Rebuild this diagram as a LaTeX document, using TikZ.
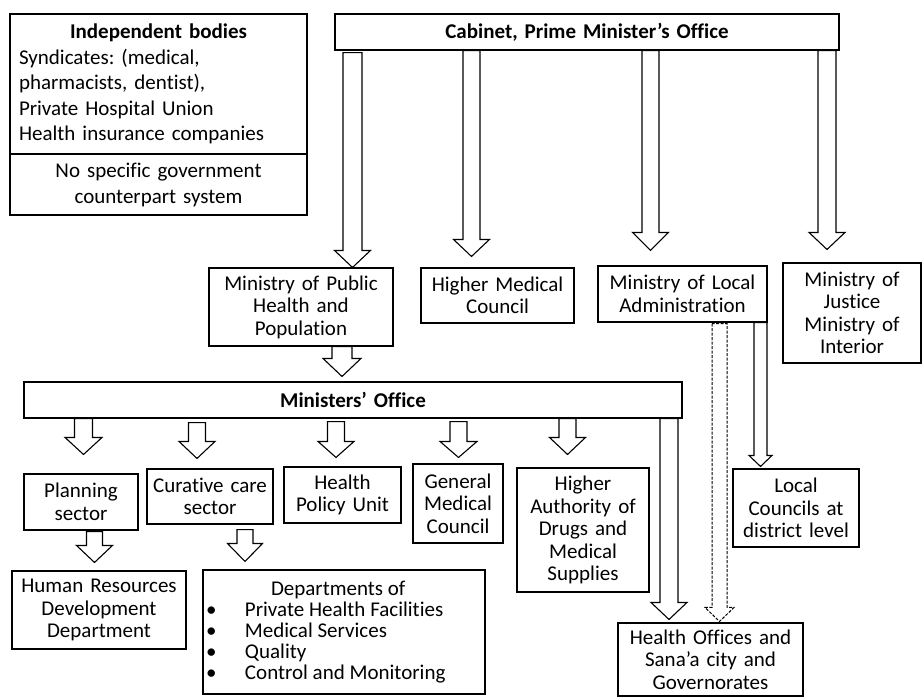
\documentclass[tikz,border=0pt]{standalone}
\usepackage{fontspec}
\setmainfont[Ligatures=NoCommon]{Carlito}
\usetikzlibrary{calc}
\frenchspacing
\tikzset{
  box/.style={draw, line width=1.1pt, fill=white, inner sep=0pt, align=center,
    font=\fontsize{21}{22.5}\selectfont},
  blk/.style={draw, line width=1.1pt, fill=white, line join=miter},
  dsh/.style={draw, line width=1pt, fill=white, dash pattern=on 3pt off 1.5pt},
}
% #1 style, #2 x centre, #3 from anchor, #4 top gap, #5 to anchor, #6 tip gap,
% #7 shaft half width, #8 head half width, #9 head length
\newcommand\barrow[9]{%
  \path[#1] let \p1=(#3), \p2=(#5) in
    ({(#2-#7)*1pt},{\y1-(#4)*1pt}) --
    ({(#2-#7)*1pt},{\y2+(#6+#9)*1pt}) --
    ({(#2-#8)*1pt},{\y2+(#6+#9)*1pt}) --
    ({(#2)*1pt},{\y2+(#6)*1pt}) --
    ({(#2+#8)*1pt},{\y2+(#6+#9)*1pt}) --
    ({(#2+#7)*1pt},{\y2+(#6+#9)*1pt}) --
    ({(#2+#7)*1pt},{\y1-(#4)*1pt}) -- cycle;}
\newcommand\bul{\makebox[42pt][l]{\hspace*{3pt}\textbullet}}
\begin{document}
\begin{tikzpicture}[x=1pt,y=-1pt]
\useasboundingbox (0,0) rectangle (923,697);

% boxes
\node[box, minimum width=297pt, minimum height=140pt, text width=279pt, align=left,
  font=\fontsize{21}{25.5}\selectfont] (indep) at (158.5,84)
  {\hfill\textbf{Independent bodies}\hfill\null\\
   Syndicates: (medical,\\
   pharmacists, dentist),\\
   Private Hospital Union\\
   Health insurance companies};
\node[box, minimum width=297pt, minimum height=61pt, text width=290pt,
  font=\fontsize{21}{26}\selectfont] (nogov) at (158.5,184.5)
  {No specific government\\counterpart system};
\node[box, minimum width=504pt, minimum height=36pt, text width=500pt,
  font=\fontsize{21}{22.5}\selectfont\bfseries] (cab) at (587,32)
  {Cabinet, Prime Minister’s Office};
\node[box, minimum width=184pt, minimum height=78pt, text width=180pt] (moph) at (301,307)
  {Ministry of Public\\Health and\\Population};
\node[box, minimum width=153pt, minimum height=55pt, text width=150pt] (hmc) at (497.5,295.5)
  {Higher Medical\\Council};
\node[box, minimum width=169pt, minimum height=56pt, text width=166pt] (mla) at (682.5,294)
  {Ministry of Local\\Administration};
\node[box, minimum width=138pt, minimum height=100pt, text width=134pt] (mji) at (852,313)
  {Ministry of\\Justice\\Ministry of\\Interior};
\node[box, minimum width=658pt, minimum height=36pt, text width=650pt,
  font=\fontsize{21}{22.5}\selectfont\bfseries] (mo) at (353,400)
  {Ministers’ Office};
\node[box, minimum width=114pt, minimum height=56pt, text width=110pt] (plan) at (81,502)
  {Planning\\sector};
\node[box, minimum width=126pt, minimum height=55pt, text width=124pt] (cur) at (210,496.5)
  {Curative care\\sector};
\node[box, minimum width=117pt, minimum height=56pt, text width=115pt] (hpu) at (342.5,495)
  {Health\\Policy Unit};
\node[box, minimum width=90pt, minimum height=79pt, text width=88pt] (gmc) at (458,503.5)
  {General\\Medical\\Council};
\node[box, minimum width=132pt, minimum height=124pt, text width=130pt] (had) at (583,530)
  {Higher\\Authority of\\Drugs and\\Medical\\Supplies};
\node[box, minimum width=126pt, minimum height=78pt, text width=124pt] (lcd) at (796,508)
  {Local\\Councils at\\district level};
\node[box, minimum width=174pt, minimum height=78pt, text width=172pt] (hrd) at (99,610)
  {Human Resources\\Development\\Department};
\node[box, minimum width=282pt, minimum height=124pt, align=left,
  font=\fontsize{21}{21}\selectfont] (dep) at (344,632)
  {\raisebox{9pt}{\parbox{282pt}{\fontsize{21}{21}\selectfont
   \hspace*{68pt}Departments of\\
   \bul Private Health Facilities\\
   \bul Medical Services\\
   \bul Quality\\
   \bul Control and Monitoring}}};
\node[box, minimum width=185pt, minimum height=73pt, text width=183pt] (hof) at (710.5,659.5)
  {Health Offices and\\Sana’a city and\\Governorates};

% block arrows: cabinet to ministries
\barrow{blk}{352.5}{cab.south}{2}{moph.north}{0}{9.5}{18}{17}
\barrow{blk}{471.5}{cab.south}{0}{hmc.north}{11}{8.5}{18}{17}
\barrow{blk}{650.5}{cab.south}{0}{mla.north}{15}{8.5}{18}{18}
\barrow{blk}{827}{cab.south}{0}{mji.north}{13}{9}{18}{17}
% ministry of public health to ministers' office
\barrow{blk}{342}{moph.south}{0}{mo.north}{5}{10}{19}{18}
% ministers' office to units
\barrow{blk}{83.5}{mo.south}{0}{plan.north}{19}{9}{18.5}{17}
\barrow{blk}{197}{mo.south}{4}{cur.north}{10}{8.5}{18}{17}
\barrow{blk}{336}{mo.south}{3}{hpu.north}{9}{8.5}{18}{16}
\barrow{blk}{458.5}{mo.south}{3}{gmc.north}{6}{8.5}{18.5}{16}
\barrow{blk}{567.5}{mo.south}{0}{had.north}{13}{8.5}{18}{17}
\barrow{blk}{669}{mo.south}{0}{hof.north}{3}{9}{18}{17}
% sectors to departments
\barrow{blk}{94.5}{plan.south}{1}{hrd.north}{8}{8}{18}{17}
\barrow{blk}{245}{cur.south}{5}{dep.north}{8}{8}{17.5}{18}
% local administration
\barrow{blk}{760.5}{mla.south}{0}{lcd.north}{2}{6.5}{11.5}{11}
\barrow{dsh}{719.5}{mla.south}{1}{hof.north}{1}{7.5}{14.5}{14}
\end{tikzpicture}
\end{document}
